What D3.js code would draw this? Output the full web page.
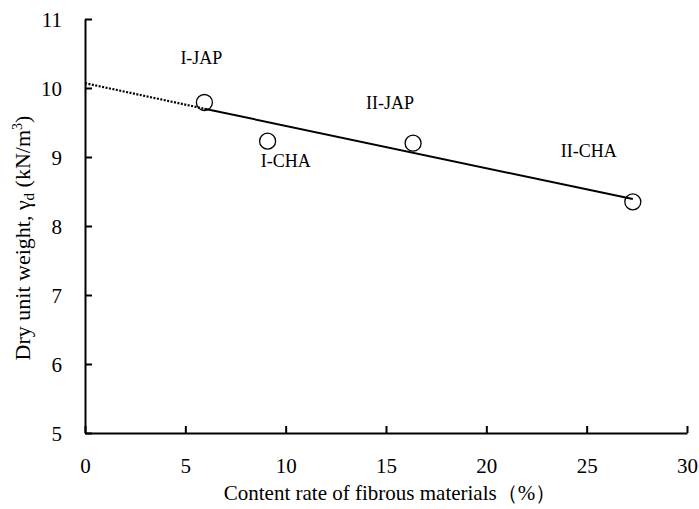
<!DOCTYPE html>
<html>
<head>
<meta charset="utf-8">
<script src="https://cdn.jsdelivr.net/npm/d3@7"></script>
<style>
  body { margin: 0; background: #fff; }
  svg text { font-family: "Liberation Serif", "Times New Roman", serif; fill: #000; }
</style>
</head>
<body>
<svg id="chart"></svg>
<script>
// samples: fibrous content (%) vs dry unit weight (kN/m3)
const samples = ['I-JAP', 'I-CHA', 'II-JAP', 'II-CHA']
const contentRate = [5.95, 9.1, 16.35, 27.3]
const dryWeight = [9.79, 9.23, 9.2, 8.35]
// where each sample label sits (data units)
const labelX = [5.8, 10.0, 15.2, 25.1]
const labelY = [10.35, 8.85, 9.7, 9.0]
// trend line
const trendDotted = [[0, 10.07], [5.95, 9.70]]
const trendSolid = [[5.95, 9.70], [27.3, 8.39]]
const xTicks = [0, 5, 10, 15, 20, 25, 30]
const yTicks = [5, 6, 7, 8, 9, 10, 11]

const W = 699, H = 509
const margin = {top: 19, right: 12, bottom: 76, left: 85}
const width = W - margin.left - margin.right
const height = H - margin.top - margin.bottom

const svg = d3.select('#chart')
  .attr('width', W)
  .attr('height', H)
  .append('g')
  .attr('transform', `translate(${margin.left}, ${margin.top})`)

const xScale = d3.scaleLinear().domain([0, 30]).range([0, width])
const yScale = d3.scaleLinear().domain([5, 11]).range([height, 0])

// x-axis, ticks point inward
const xAxis = svg.append('g')
  .attr('transform', `translate(0, ${height})`)
  .call(d3.axisBottom(xScale).tickValues(xTicks).tickFormat(d3.format('d')).tickSize(-7).tickPadding(25).tickSizeOuter(0))
xAxis.selectAll('text').style('font-size', '21px')

const yAxis = svg.append('g')
  .call(d3.axisLeft(yScale).tickValues(yTicks).tickFormat(d3.format('d')).tickSize(-7).tickPadding(23).tickSizeOuter(0))
yAxis.selectAll('text').style('font-size', '21px').attr('dy', '0.35em')

svg.selectAll('.domain, .tick line')
  .attr('stroke', '#000')
  .attr('stroke-width', 2)

// axis titles
svg.append('text')
  .attr('x', width / 2 + 4)
  .attr('y', height + 67)
  .style('text-anchor', 'middle')
  .style('font-size', '21px')
  .text('Content rate of fibrous materials（%）')

const yTitle = svg.append('text')
  .attr('transform', `translate(-55, ${height / 2 + 12}) rotate(-90)`)
  .style('text-anchor', 'middle')
  .style('font-size', '22px')
yTitle.append('tspan').text('Dry unit weight,  γ')
yTitle.append('tspan').attr('dy', 4).style('font-size', '15px').text('d')
yTitle.append('tspan').attr('dy', -4).text('  (kN/m')
yTitle.append('tspan').attr('dy', -8).style('font-size', '14px').text('3')
yTitle.append('tspan').attr('dy', 8).text(')')

// trend line
const line = d3.line()
  .x(d => xScale(d[0]))
  .y(d => yScale(d[1]))

svg.append('path')
  .datum(trendDotted)
  .attr('fill', 'none')
  .attr('stroke', '#000')
  .attr('stroke-width', 2.2)
  .attr('stroke-dasharray', '2,1.5')
  .attr('d', line)

svg.append('path')
  .datum(trendSolid)
  .attr('fill', 'none')
  .attr('stroke', '#000')
  .attr('stroke-width', 2)
  .attr('d', line)

// sample points
svg.selectAll('circle')
  .data(contentRate)
  .enter()
  .append('circle')
  .attr('cx', d => xScale(d))
  .attr('cy', (d, i) => yScale(dryWeight[i]))
  .attr('r', 8)
  .attr('fill', 'none')
  .attr('stroke', '#000')
  .attr('stroke-width', 1.3)

svg.selectAll('.labels')
  .data(samples)
  .enter()
  .append('text')
  .attr('class', 'labels')
  .attr('x', (d, i) => xScale(labelX[i]))
  .attr('y', (d, i) => yScale(labelY[i]))
  .style('text-anchor', 'middle')
  .style('font-size', '18px')
  .text(d => d)
</script>
</body>
</html>
